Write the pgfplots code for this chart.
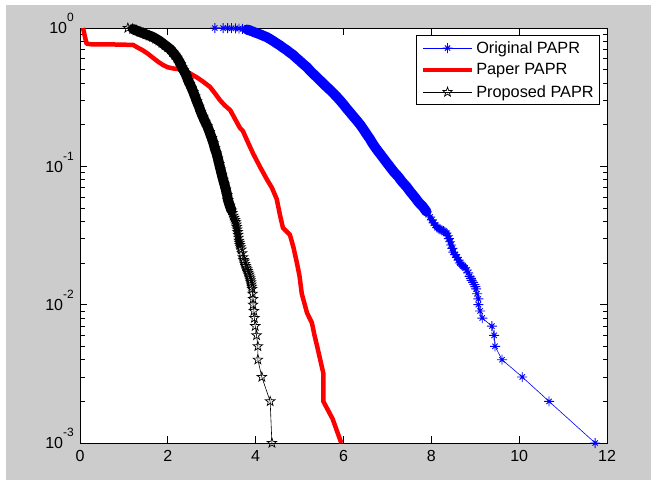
\documentclass[border=0pt]{standalone}
\usepackage{fontspec}
\setmainfont{Liberation Sans}
\usepackage{pgfplots}
\pgfplotsset{compat=1.18}
\definecolor{figgray}{RGB}{204,204,204}

% matlab style '*' marker (plus and cross)
\pgfdeclareplotmark{matast}{%
  \pgfpathmoveto{\pgfqpoint{-\pgfplotmarksize}{0pt}}\pgfpathlineto{\pgfqpoint{\pgfplotmarksize}{0pt}}%
  \pgfpathmoveto{\pgfqpoint{0pt}{-\pgfplotmarksize}}\pgfpathlineto{\pgfqpoint{0pt}{\pgfplotmarksize}}%
  \pgfpathmoveto{\pgfpointpolar{45}{0.75\pgfplotmarksize}}\pgfpathlineto{\pgfpointpolar{225}{0.75\pgfplotmarksize}}%
  \pgfpathmoveto{\pgfpointpolar{135}{0.75\pgfplotmarksize}}\pgfpathlineto{\pgfpointpolar{315}{0.75\pgfplotmarksize}}%
  \pgfusepathqstroke}
% matlab style 'p' marker (outlined star)
\pgfdeclareplotmark{pentagram}{%
  \pgfpathmoveto{\pgfpointpolar{90}{\pgfplotmarksize}}%
  \pgfpathlineto{\pgfpointpolar{126}{0.4\pgfplotmarksize}}%
  \pgfpathlineto{\pgfpointpolar{162}{\pgfplotmarksize}}%
  \pgfpathlineto{\pgfpointpolar{198}{0.4\pgfplotmarksize}}%
  \pgfpathlineto{\pgfpointpolar{234}{\pgfplotmarksize}}%
  \pgfpathlineto{\pgfpointpolar{270}{0.4\pgfplotmarksize}}%
  \pgfpathlineto{\pgfpointpolar{306}{\pgfplotmarksize}}%
  \pgfpathlineto{\pgfpointpolar{342}{0.4\pgfplotmarksize}}%
  \pgfpathlineto{\pgfpointpolar{18}{\pgfplotmarksize}}%
  \pgfpathlineto{\pgfpointpolar{54}{0.4\pgfplotmarksize}}%
  \pgfpathclose\pgfusepathqstroke}

\newcommand{\ex}[1]{10\raisebox{12pt}{\fontsize{12}{12}\selectfont#1}}

\pgfplotstableread{
x y
3.07 1.000
3.26 0.998
3.36 0.997
3.45 0.996
3.54 0.994
3.62 0.990
3.70 0.985
3.80 0.975
3.87 0.960
3.94 0.940
4.02 0.920
4.10 0.900
4.17 0.880
4.25 0.860
4.32 0.835
4.40 0.805
4.47 0.778
4.55 0.750
4.62 0.722
4.70 0.695
4.77 0.667
4.85 0.640
4.92 0.610
5.00 0.580
5.08 0.550
5.17 0.520
5.23 0.495
5.30 0.470
5.38 0.445
5.46 0.420
5.53 0.400
5.60 0.380
5.68 0.360
5.76 0.340
5.84 0.320
5.92 0.300
6.00 0.280
6.08 0.260
6.15 0.245
6.22 0.230
6.30 0.215
6.38 0.200
6.45 0.186
6.52 0.172
6.60 0.158
6.67 0.145
6.76 0.132
6.86 0.120
6.96 0.109
7.06 0.099
7.15 0.091
7.25 0.084
7.34 0.077
7.44 0.071
7.53 0.065
7.62 0.060
7.71 0.055
7.81 0.051
7.89 0.047
7.97 0.043
8.01 0.041
8.05 0.039
8.09 0.0375
8.13 0.036
8.17 0.0355
8.20 0.035
8.24 0.0345
8.28 0.034
8.31 0.0335
8.35 0.033
8.38 0.0315
8.40 0.030
8.43 0.0285
8.45 0.027
8.48 0.0255
8.50 0.024
8.54 0.023
8.58 0.022
8.62 0.021
8.65 0.020
8.69 0.0195
8.72 0.019
8.77 0.0185
8.81 0.0178
8.84 0.017
8.87 0.016
8.90 0.0155
8.92 0.015
8.95 0.0145
8.98 0.014
9.00 0.0135
9.02 0.013
9.04 0.012
9.07 0.011
9.07 0.010
9.11 0.009
9.16 0.008
9.38 0.007
9.43 0.006
9.45 0.005
9.61 0.004
10.07 0.003
10.68 0.002
11.73 0.001
}\original

\pgfplotstableread{
x y
0.07 1.000
0.10 0.900
0.15 0.770
0.30 0.760
0.80 0.760
1.21 0.755
1.32 0.720
1.43 0.690
1.55 0.650
1.66 0.610
1.78 0.570
1.89 0.540
2.00 0.520
2.12 0.510
2.35 0.500
2.50 0.470
2.66 0.440
2.80 0.410
2.96 0.375
3.08 0.335
3.19 0.300
3.30 0.275
3.42 0.255
3.53 0.220
3.64 0.190
3.71 0.180
3.80 0.155
3.94 0.124
4.10 0.099
4.26 0.080
4.37 0.070
4.48 0.058
4.55 0.045
4.62 0.036
4.78 0.032
4.86 0.026
4.94 0.020
5.00 0.016
5.05 0.012
5.17 0.0087
5.28 0.0074
5.34 0.0060
5.40 0.0050
5.47 0.0040
5.54 0.0032
5.54 0.0020
5.75 0.0015
5.95 0.0010
}\paper

\pgfplotstableread{
x y
1.09 1.000
1.20 0.985
1.28 0.960
1.37 0.935
1.44 0.918
1.50 0.900
1.58 0.880
1.66 0.860
1.73 0.835
1.80 0.810
1.87 0.780
1.94 0.750
2.00 0.725
2.06 0.700
2.11 0.670
2.16 0.640
2.21 0.610
2.25 0.580
2.29 0.550
2.32 0.520
2.36 0.495
2.40 0.470
2.43 0.445
2.46 0.420
2.50 0.395
2.54 0.370
2.58 0.345
2.62 0.320
2.66 0.295
2.71 0.270
2.75 0.248
2.80 0.228
2.85 0.210
2.90 0.195
2.95 0.177
3.00 0.160
3.04 0.147
3.07 0.135
3.11 0.124
3.14 0.114
3.17 0.104
3.20 0.095
3.23 0.087
3.26 0.080
3.29 0.074
3.32 0.068
3.35 0.062
3.37 0.057
3.41 0.052
3.45 0.048
3.47 0.046
3.49 0.044
3.51 0.0425
3.53 0.041
3.55 0.0395
3.56 0.038
3.57 0.0365
3.58 0.035
3.59 0.0335
3.60 0.032
3.61 0.0305
3.62 0.029
3.63 0.028
3.64 0.027
3.655 0.026
3.67 0.025
3.69 0.0235
3.71 0.022
3.725 0.021
3.74 0.0205
3.755 0.0197
3.77 0.019
3.785 0.0185
3.80 0.018
3.815 0.0175
3.83 0.017
3.845 0.0165
3.86 0.016
3.87 0.0155
3.88 0.015
3.89 0.0145
3.90 0.014
3.91 0.0135
3.92 0.013
3.93 0.012
3.94 0.011
3.94 0.010
3.96 0.009
3.97 0.008
3.99 0.007
4.02 0.006
4.05 0.005
4.05 0.004
4.14 0.003
4.33 0.002
4.37 0.001
}\proposed

\begin{document}
\begin{tikzpicture}
\fill[white] (0pt,0pt) rectangle (651pt,480pt);
\fill[figgray] (6pt,0pt) rectangle (651pt,475pt);
\path[use as bounding box] (0pt,0pt) rectangle (651pt,480pt);
\begin{axis}[
  at={(80pt,37pt)}, anchor=south west,
  scale only axis, width=527pt, height=415pt,
  ymode=log,
  xmin=0, xmax=12, ymin=1e-3, ymax=1,
  xtick={0,2,4,6,8,10,12},
  xticklabels={0,2,4,6,8,10,12},
  ytick={1e-3,1e-2,1e-1,1},
  yticklabels={\ex{-3},\ex{-2},\ex{-1},\ex{0}},
  minor ytick={0.002,0.003,0.004,0.005,0.006,0.007,0.008,0.009,
    0.02,0.03,0.04,0.05,0.06,0.07,0.08,0.09,
    0.2,0.3,0.4,0.5,0.6,0.7,0.8,0.9},
  tick align=inside,
  major tick length=7pt, minor tick length=4.5pt,
  tick style={black, line width=0.8pt},
  axis line style={line width=0.8pt},
  axis background/.style={fill=white},
  clip=false,
  xticklabel style={font=\fontsize{16}{18}\selectfont, anchor=north, inner sep=0pt, yshift=-7pt},
  yticklabel style={font=\fontsize{16}{18}\selectfont, anchor=base east, inner sep=0pt, xshift=-6pt, yshift=-5.8pt},
  legend image code/.code={\draw[mark repeat=2,mark phase=2] plot coordinates {(0pt,0pt) (24.5pt,0pt) (49pt,0pt)};},
  legend style={at={(0.987,0.983)}, anchor=north east, draw=black, line width=0.8pt,
    fill=white, font=\fontsize{16.3}{19}\selectfont, inner xsep=4pt, inner ysep=4pt,
    row sep=5pt},
  legend cell align=left,
]
\addplot[blue, line width=10pt, line cap=round, line join=round, forget plot,
  restrict x to domain=3.75:7.95] table {\original};
\addplot[blue, line width=5pt, line cap=round, line join=round, forget plot,
  restrict x to domain=7.9:8.8] table {\original};
\addplot[blue, line width=0.6pt, mark=matast, mark size=5pt,
  mark options={line width=0.9pt}] table {\original};
\addlegendentry{Original PAPR}
\addplot[red, line width=4.5pt, line join=round] table {\paper};
\addlegendentry{Paper PAPR}
\addplot[black, line width=10pt, line cap=round, line join=round, forget plot,
  restrict x to domain=1.15:3.45] table {\proposed};
\addplot[black, line width=5pt, line cap=round, line join=round, forget plot,
  restrict x to domain=3.4:3.65] table {\proposed};
\addplot[black, line width=0.6pt, mark=pentagram, mark size=5pt,
  mark options={line width=0.7pt}] table {\proposed};
\addlegendentry{Proposed PAPR}
\end{axis}
\end{tikzpicture}
\end{document}
